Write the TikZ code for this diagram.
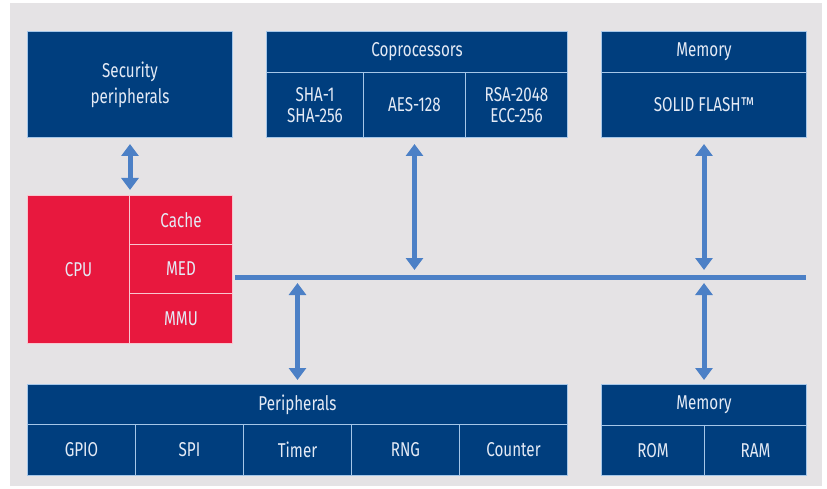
\documentclass[tikz,border=0pt]{standalone}
\usepackage{fontspec}
\setmainfont[FakeStretch=0.76]{Fira Sans}
\usetikzlibrary{arrows.meta}
\definecolor{navy}{RGB}{0,62,126}
\definecolor{cpured}{RGB}{232,24,62}
\definecolor{busblue}{RGB}{76,128,198}
\definecolor{bggrey}{RGB}{229,227,229}
\definecolor{edgeblue}{RGB}{165,198,232}
\definecolor{labelwhite}{RGB}{228,234,245}
\tikzset{
  block/.style={
    rectangle,
    anchor=north west,
    fill=navy,
    draw=edgeblue,
    line width=1pt,
    inner sep=0pt,
    align=center,
    text=labelwhite,
    font=\fontsize{20}{26}\selectfont
  },
  cpublock/.style={
    block,
    fill=cpured,
    draw=cpured!25!white
  },
  bus/.style={busblue, line width=5pt},
  link/.style={
    busblue,
    line width=5pt,
    {Triangle[width=17pt,length=12pt]}-{Triangle[width=17pt,length=12pt]}
  }
}

\begin{document}
\begin{tikzpicture}[x=1pt,y=-1pt]
  \useasboundingbox (0,0) rectangle (827,489);
  \fill[bggrey] (10,3) rectangle (822,486);
  \node[block, minimum width=205pt, minimum height=106pt] (sec) at (27,31) {Security\\peripherals};
  \node[block, minimum width=301pt, minimum height=41pt] (cop) at (266,31) {Coprocessors};
  \node[block, minimum width=97pt, minimum height=65pt, font=\fontsize{20}{21}\selectfont] (sha) at (266,72) {SHA-1\\SHA-256};
  \node[block, minimum width=102pt, minimum height=65pt] (aes) at (363,72) {AES-128};
  \node[block, minimum width=102pt, minimum height=65pt, font=\fontsize{20}{21}\selectfont] (rsa) at (465,72) {RSA-2048\\ECC-256};
  \node[block, minimum width=205pt, minimum height=41pt] (memt) at (601,31) {Memory};
  \node[block, minimum width=205pt, minimum height=65pt] (flash) at (601,72) {SOLID FLASH™};
  \node[cpublock, minimum width=102pt, minimum height=148pt] (cpu) at (27,195) {CPU};
  \node[cpublock, minimum width=103pt, minimum height=49pt] (cache) at (129,195) {Cache};
  \node[cpublock, minimum width=103pt, minimum height=49pt] (med) at (129,244) {MED};
  \node[cpublock, minimum width=103pt, minimum height=50pt] (mmu) at (129,293) {MMU};
  \node[block, minimum width=540pt, minimum height=40pt] (peri) at (27,384) {Peripherals};
  \foreach \name [count=\i from 0] in {GPIO,SPI,Timer,RNG,Counter}
    \node[block, minimum width=108pt, minimum height=51pt] (p\i) at (27+108*\i,424) {\name};
  \node[block, minimum width=205pt, minimum height=41pt] (memb) at (601,384) {Memory};
  \node[block, minimum width=103pt, minimum height=50pt] (rom) at (601,425) {ROM};
  \node[block, minimum width=102pt, minimum height=50pt] (ram) at (704,425) {RAM};
  \coordinate (busl) at (235,277);
  \coordinate (busr) at (806,277);
  \draw[bus] (busl) -- (busr);
  \draw[link, shorten <=6pt, shorten >=5pt] (sec.south) -- (sec.south |- cpu.north);
  \draw[link, shorten <=6pt, shorten >=7pt] (aes.south) -- (aes.south |- busl);
  \draw[link, shorten <=6pt, shorten >=7pt] (flash.south) -- (flash.south |- busr);
  \draw[link, shorten <=6pt, shorten >=4pt] (p2.north |- busl) -- (p2.north |- peri.north);
  \draw[link, shorten <=6pt, shorten >=4pt] (memb.north |- busr) -- (memb.north);
\end{tikzpicture}
\end{document}
